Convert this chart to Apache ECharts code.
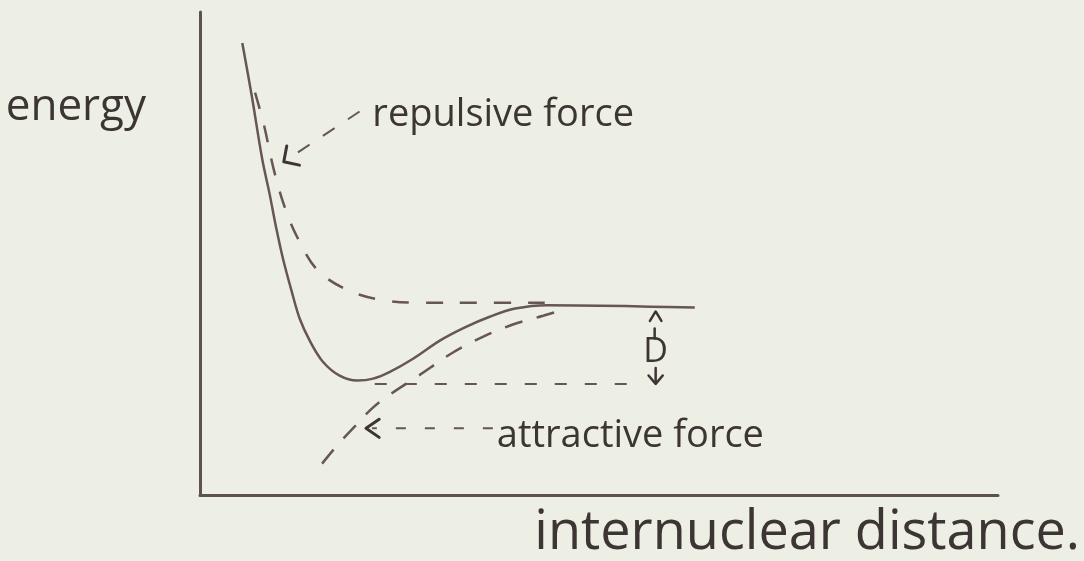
<!DOCTYPE html>
<html>
<head>
<meta charset="utf-8">
<title>Potential energy curve</title>
<style>
  html, body { margin: 0; padding: 0; background: #edefe4; }
  #chart { width: 1084px; height: 561px; }
</style>
<script src="https://cdn.jsdelivr.net/npm/echarts@6/dist/echarts.min.js"></script>
</head>
<body>
<div id="chart"></div>
<script>
// Potential energy of two nuclei against their separation (arbitrary units).
// Net energy curve (solid)
const distance = [0.53, 0.65, 0.78, 0.87, 0.95, 1.04, 1.15, 1.25, 1.38, 1.54, 1.75, 1.97, 2.17, 2.38, 2.67, 3.01, 3.32, 3.63, 3.95, 4.35, 5.01, 5.64, 6.20];
const energy   = [5.46, 4.35, 3.05, 2.35, 1.67, 0.99, 0.31, -0.25, -0.72, -1.14, -1.43, -1.53, -1.49, -1.35, -1.08, -0.70, -0.43, -0.21, -0.04, 0.03, 0.02, 0.00, -0.02];

// Repulsive contribution (dashed)
const repulsiveDistance = [0.69, 0.80, 0.93, 1.07, 1.23, 1.47, 1.84, 2.27, 2.78, 3.51, 4.32];
const repulsiveEnergy   = [4.43, 3.77, 2.80, 2.02, 1.40, 0.76, 0.35, 0.14, 0.08, 0.08, 0.08];

// Attractive contribution (dashed)
const attractiveDistance = [1.53, 1.72, 1.94, 2.16, 2.38, 2.73, 3.17, 3.55, 3.92, 4.30, 4.46];
const attractiveEnergy   = [-3.25, -2.87, -2.48, -2.10, -1.82, -1.44, -0.95, -0.62, -0.37, -0.19, -0.11];

// Well depth D: dashed level under the minimum and the marker between the two levels
const wellLevel = -1.60;
const wellLineDistance = [2.19, 5.51];
const dissociationLevel = -0.10;
const depthMarkerDistance = 5.71;

// Pointer annotations: label anchor, leader start, arrow tip (all in data units)
const pointerLabels = ['repulsive force', 'attractive force'];
const pointerLabelAt = [[2.16, 3.97], [3.72, -2.68]];
const pointerFrom = [[2.00, 4.04], [3.67, -2.52]];
const pointerTo = [[1.05, 3.00], [2.08, -2.52]];

const ink = '#3d3533';
const pen = '#675653';
const textFont = '"Open Sans", "DejaVu Sans", sans-serif';

const zip = (xs, ys) => xs.map((x, i) => [x, ys[i]]);

function chevron(tip, dirX, dirY, len, half) {
  // open arrowhead whose tip points along (dirX, dirY)
  const n = Math.hypot(dirX, dirY) || 1;
  const ux = -dirX / n, uy = -dirY / n;
  const rot = (a) => [ux * Math.cos(a) - uy * Math.sin(a), ux * Math.sin(a) + uy * Math.cos(a)];
  const a = rot(half), b = rot(-half);
  return [[tip[0] + a[0] * len, tip[1] + a[1] * len], tip, [tip[0] + b[0] * len, tip[1] + b[1] * len]];
}

const chart = echarts.init(document.getElementById('chart'));

chart.setOption({
  backgroundColor: '#edefe4',
  animation: false,
  grid: { left: 200, right: 86, top: 12, bottom: 64, containLabel: false },
  xAxis: {
    type: 'value', min: 0, max: 10,
    axisLine: { show: true, onZero: false, lineStyle: { color: '#5e514f', width: 3 } },
    axisTick: { show: false }, axisLabel: { show: false }, splitLine: { show: false },
    name: 'internuclear distance.',
    nameLocation: 'end',
    nameGap: 82,
    nameTextStyle: { color: ink, fontFamily: textFont, fontSize: 54, align: 'right', verticalAlign: 'top', padding: [12, 0, 0, 0] }
  },
  yAxis: {
    type: 'value', min: -3.9, max: 6.1,
    axisLine: { show: true, onZero: false, lineStyle: { color: '#5e514f', width: 3 } },
    axisTick: { show: false }, axisLabel: { show: false }, splitLine: { show: false },
    name: 'energy',
    nameLocation: 'end',
    nameGap: -95,
    nameTextStyle: { color: ink, fontFamily: textFont, fontSize: 44, align: 'right', verticalAlign: 'middle', padding: [0, 54, 0, 0] }
  },
  series: [
    {
      name: 'energy', type: 'line', data: zip(distance, energy),
      smooth: 0.35, symbol: 'none', silent: true,
      lineStyle: { color: pen, width: 2.5 }
    },
    {
      name: 'repulsive', type: 'line', data: zip(repulsiveDistance, repulsiveEnergy),
      smooth: 0.35, symbol: 'none', silent: true,
      lineStyle: { color: pen, width: 2.5, type: [17, 17] }
    },
    {
      name: 'attractive', type: 'line', data: zip(attractiveDistance, attractiveEnergy),
      smooth: 0.35, symbol: 'none', silent: true,
      lineStyle: { color: pen, width: 2.5, type: [18, 15] }
    },
    {
      name: 'well', type: 'line', data: wellLineDistance.map((x) => [x, wellLevel]),
      symbol: 'none', silent: true,
      lineStyle: { color: pen, width: 2, type: [12, 18] }
    },
    {
      // pointer labels with dashed leaders and arrowheads
      name: 'pointers', type: 'custom', silent: true,
      data: pointerLabels.map((_, i) => [pointerFrom[i][0], pointerFrom[i][1], pointerTo[i][0], pointerTo[i][1], pointerLabelAt[i][0], pointerLabelAt[i][1]]),
      renderItem: (params, api) => {
        const i = params.dataIndex;
        const p0 = api.coord([api.value(0), api.value(1)]);
        const p1 = api.coord([api.value(2), api.value(3)]);
        const pl = api.coord([api.value(4), api.value(5)]);
        const head = chevron(p1, p1[0] - p0[0], p1[1] - p0[1], 16, i === 0 ? 0.8 : 0.6);
        return {
          type: 'group',
          children: [
            { type: 'line', shape: { x1: p0[0], y1: p0[1], x2: p1[0] + 6 * Math.sign(p0[0] - p1[0]), y2: p1[1] + (i === 0 ? -4 : 0) },
              style: { stroke: pen, lineWidth: 2, lineDash: i === 0 ? [14, 16] : [10, 19], fill: null } },
            { type: 'polyline', shape: { points: head }, style: { stroke: ink, lineWidth: 3, fill: null, lineJoin: 'round', lineCap: 'round' } },
            { type: 'text', x: pl[0], y: pl[1], style: { text: pointerLabels[i], font: '38px ' + textFont, fill: ink, align: 'left', verticalAlign: 'middle' } }
          ]
        };
      }
    },
    {
      // depth marker D between the dissociation level and the well bottom
      name: 'depth', type: 'custom', silent: true,
      data: [[depthMarkerDistance, dissociationLevel, wellLevel]],
      renderItem: (params, api) => {
        const top = api.coord([api.value(0), api.value(1)]);
        const bot = api.coord([api.value(0), api.value(2)]);
        const x = top[0];
        const mid = top[1] + (bot[1] - top[1]) * 0.56;
        const stroke = { stroke: ink, lineWidth: 2.5, fill: null, lineCap: 'round', lineJoin: 'round' };
        return {
          type: 'group',
          children: [
            { type: 'polyline', shape: { points: chevron(top, 0, -1, 11, 0.55) }, style: stroke },
            { type: 'line', shape: { x1: x - 1, y1: top[1] + 17, x2: x - 1, y2: top[1] + 27 }, style: stroke },
            { type: 'text', x: x, y: mid, style: { text: 'D', font: '34px ' + textFont, fill: ink, align: 'center', verticalAlign: 'middle' } },
            { type: 'line', shape: { x1: x, y1: bot[1] - 16, x2: x, y2: bot[1] - 2 }, style: stroke },
            { type: 'polyline', shape: { points: chevron(bot, 0, 1, 11, 0.7) }, style: stroke }
          ]
        };
      }
    }
  ]
});
</script>
</body>
</html>
